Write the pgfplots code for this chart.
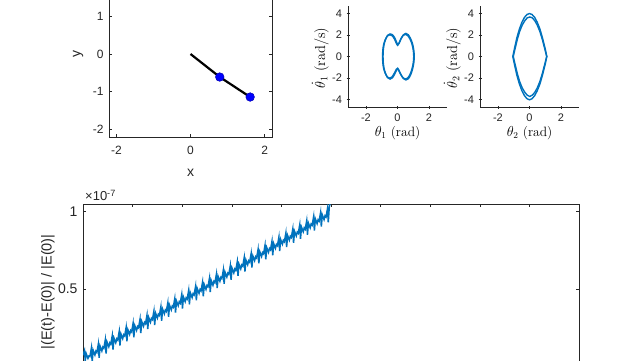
\documentclass[border=0pt]{standalone}
\usepackage{pgfplots}
\pgfplotsset{compat=1.18}
\usepackage{fontspec}
\newfontfamily\arial{Liberation Sans}
\definecolor{mblue}{rgb}{0,0.447,0.741}
\definecolor{axgray}{rgb}{0.15,0.15,0.15}
\pgfplotsset{
  mstyle/.style={
    scale only axis,
    axis line style={axgray, line width=0.6pt},
    tick style={axgray, line width=0.6pt},
    tick align=inside,
    major tick length=3pt,
    /pgf/number format/assume math mode=true,
    every tick label/.append style={text=axgray},
  },
  phase/.style={
    mstyle,
    width=99pt, height=101pt,
    xmin=-3.14, xmax=3.14, ymin=-4.7, ymax=4.7,
    axis lines=left,
    axis line style={-},
    xtick={-2,0,2}, ytick={-4,-2,0,2,4},
    tick label style={font=\arial\fontsize{11}{12}\selectfont},
    xticklabel style={yshift=-2pt},
    yticklabel style={xshift=-1pt},
    ylabel style={at={(axis description cs:-0.28,0.485)}, anchor=center, rotate=0, font=\fontsize{14.5}{16}\selectfont},
    xlabel style={at={(axis description cs:0.5,-0.255)}, anchor=center, font=\fontsize{13.5}{15}\selectfont},
  },
}
\begin{document}
\begin{tikzpicture}[x=1pt,y=1pt]
\useasboundingbox (0,0) rectangle (640,360);
\clip (0,0) rectangle (640,360);
\fill[white] (0,0) rectangle (640,360);

% pendulum
\begin{axis}[mstyle,
  at={(109pt,223pt)}, anchor=south west,
  width=163pt, height=166pt,
  xmin=-2.2, xmax=2.2, ymin=-2.2, ymax=2.2,
  xtick={-2,0,2}, ytick={-2,-1,0,1,2},
  tick label style={font=\arial\fontsize{12}{14}\selectfont},
  xticklabel style={yshift=-6pt},
  yticklabel style={xshift=-2pt},
  xlabel={x}, ylabel={y},
  label style={font=\arial\fontsize{14}{16}\selectfont, text=axgray},
  ylabel style={at={(axis description cs:-0.19,0.5)}, anchor=center},
  xlabel style={at={(axis description cs:0.5,-0.217)}, anchor=center},
]
\addplot[black, line width=2.2pt] coordinates {(0,0) (0.79,-0.61) (1.61,-1.14)};
\addplot[only marks, mark=*, mark size=4.3pt, mark options={fill=blue, draw=blue!70!black, line width=0.5pt}] coordinates {(0.79,-0.61) (1.61,-1.14)};
\end{axis}

% theta1 phase
\begin{axis}[phase,
  at={(348pt,253pt)}, anchor=south west,
  xlabel={$\theta_1$ (rad)}, ylabel={$\dot{\theta}_1$ (rad/s)},
]
\addplot[mblue, line width=1.4pt, smooth, tension=0.5] coordinates {
(-0.95,0) (-0.93,0.6) (-0.88,1.1) (-0.78,1.55) (-0.65,1.9) (-0.5,2.02) (-0.35,1.95) (-0.2,1.65) (-0.08,1.25) (0,1.05) (0.08,1.2) (0.2,1.6) (0.35,1.95) (0.5,2.07) (0.65,1.95) (0.8,1.6) (0.92,1.15) (1.0,0.6) (1.03,0) (1.0,-0.6) (0.92,-1.15) (0.8,-1.65) (0.65,-2.0) (0.5,-2.1) (0.35,-1.98) (0.2,-1.65) (0.08,-1.3) (0,-1.1) (-0.08,-1.2) (-0.2,-1.55) (-0.35,-1.9) (-0.5,-2.02) (-0.65,-1.9) (-0.78,-1.55) (-0.88,-1.1) (-0.93,-0.6) (-0.95,0)};
\addplot[mblue, line width=1.4pt, smooth, tension=0.5] coordinates {
(-0.92,0) (-0.90,0.62) (-0.85,1.14) (-0.75,1.61) (-0.62,1.98) (-0.47,2.1) (-0.32,2.03) (-0.17,1.72) (-0.05,1.3) (0.03,1.09) (0.11,1.25) (0.23,1.66) (0.38,2.03) (0.53,2.15) (0.68,2.03) (0.83,1.66) (0.95,1.2) (1.03,0.62) (1.06,0) (1.03,-0.62) (0.95,-1.2) (0.83,-1.72) (0.68,-2.08) (0.53,-2.18) (0.38,-2.06) (0.23,-1.72) (0.11,-1.35) (0.03,-1.14) (-0.05,-1.25) (-0.17,-1.61) (-0.32,-1.98) (-0.47,-2.1) (-0.62,-1.98) (-0.75,-1.61) (-0.85,-1.14) (-0.90,-0.62) (-0.92,0)};
\end{axis}

% theta2 phase
\begin{axis}[phase,
  at={(480pt,253pt)}, anchor=south west,
  xlabel={$\theta_2$ (rad)}, ylabel={$\dot{\theta}_2$ (rad/s)},
]
\addplot[mblue, line width=1.4pt] coordinates {
(-1.06,0) (-0.95,0.76) (-0.8,1.75) (-0.64,2.56) (-0.48,3.19) (-0.32,3.64) (-0.16,3.91) (0,4.0) (0.16,3.91) (0.33,3.64) (0.49,3.19) (0.66,2.56) (0.82,1.75) (0.99,0.76) (1.1,0) (0.99,-0.76) (0.82,-1.75) (0.66,-2.56) (0.49,-3.19) (0.33,-3.64) (0.16,-3.93) (0,-4.03) (-0.16,-3.93) (-0.32,-3.64) (-0.48,-3.19) (-0.64,-2.56) (-0.8,-1.75) (-0.95,-0.76) (-1.06,0)};
\addplot[mblue, line width=1.4pt] coordinates {
(-1.03,0) (-0.92,0.70) (-0.77,1.61) (-0.62,2.36) (-0.46,2.93) (-0.29,3.35) (-0.14,3.6) (0.02,3.68) (0.17,3.6) (0.33,3.35) (0.49,2.93) (0.65,2.36) (0.81,1.61) (0.97,0.70) (1.09,0) (0.97,-0.70) (0.81,-1.61) (0.65,-2.36) (0.49,-2.93) (0.33,-3.35) (0.17,-3.6) (0.02,-3.72) (-0.14,-3.6) (-0.29,-3.35) (-0.46,-2.93) (-0.62,-2.36) (-0.77,-1.61) (-0.92,-0.7) (-1.03,0)};
\end{axis}

% energy error
\begin{axis}[mstyle,
  at={(83pt,-6pt)}, anchor=south west,
  width=496pt, height=162pt,
  xmin=0, xmax=10, ymin=0, ymax=1.05,
  xtick={0,1,2,3,4,5,6,7,8,9,10}, ytick={0.5,1},
  yticklabels={0.5,1},
  tick label style={font=\arial\fontsize{14}{16}\selectfont},
  yticklabel style={xshift=-2pt},
  ylabel={|(E(t)-E(0)| / |E(0)|},
  ylabel style={font=\arial\fontsize{14.5}{16}\selectfont, text=axgray, at={(axis description cs:-0.0706,0.457)}, anchor=center},
  clip mode=individual,
]
\addplot[mblue, line width=1.5pt] table {
0 0.07
0.03 0.10
0.045 0.035
0.065 0.08
0.10 0.05
0.12 0.065
0.14 0.062
0.17 0.117
0.185 0.027
0.205 0.102
0.24 0.072
0.26 0.097
0.28 0.088
0.31 0.143
0.325 0.053
0.345 0.128
0.38 0.098
0.40 0.123
0.42 0.115
0.45 0.170
0.465 0.080
0.485 0.155
0.52 0.125
0.54 0.150
0.56 0.141
0.59 0.196
0.605 0.106
0.625 0.181
0.66 0.151
0.68 0.176
0.70 0.168
0.73 0.223
0.745 0.133
0.765 0.208
0.80 0.178
0.82 0.203
0.84 0.195
0.87 0.250
0.885 0.160
0.905 0.235
0.94 0.205
0.96 0.230
0.98 0.221
1.01 0.276
1.025 0.186
1.045 0.261
1.08 0.231
1.10 0.256
1.12 0.248
1.15 0.303
1.165 0.213
1.185 0.288
1.22 0.258
1.24 0.283
1.26 0.274
1.29 0.329
1.305 0.239
1.325 0.314
1.36 0.284
1.38 0.309
1.40 0.301
1.43 0.356
1.445 0.266
1.465 0.341
1.50 0.311
1.52 0.336
1.54 0.328
1.57 0.383
1.585 0.293
1.605 0.368
1.64 0.338
1.66 0.363
1.68 0.354
1.71 0.409
1.725 0.319
1.745 0.394
1.78 0.364
1.80 0.389
1.82 0.381
1.85 0.436
1.865 0.346
1.885 0.421
1.92 0.391
1.94 0.416
1.96 0.407
1.99 0.462
2.005 0.372
2.025 0.447
2.06 0.417
2.08 0.442
2.10 0.434
2.13 0.489
2.145 0.399
2.165 0.474
2.20 0.444
2.22 0.469
2.24 0.461
2.27 0.516
2.285 0.426
2.305 0.501
2.34 0.471
2.36 0.496
2.38 0.487
2.41 0.542
2.425 0.452
2.445 0.527
2.48 0.497
2.50 0.522
2.52 0.514
2.55 0.569
2.565 0.479
2.585 0.554
2.62 0.524
2.64 0.549
2.66 0.540
2.69 0.595
2.705 0.505
2.725 0.580
2.76 0.550
2.78 0.575
2.80 0.567
2.83 0.622
2.845 0.532
2.865 0.607
2.90 0.577
2.92 0.602
2.94 0.594
2.97 0.649
2.985 0.559
3.005 0.634
3.04 0.604
3.06 0.629
3.08 0.620
3.11 0.675
3.125 0.585
3.145 0.660
3.18 0.630
3.20 0.655
3.22 0.647
3.25 0.702
3.265 0.612
3.285 0.687
3.32 0.657
3.34 0.682
3.36 0.673
3.39 0.728
3.405 0.638
3.425 0.713
3.46 0.683
3.48 0.708
3.50 0.700
3.53 0.755
3.545 0.665
3.565 0.740
3.60 0.710
3.62 0.735
3.64 0.727
3.67 0.782
3.685 0.692
3.705 0.767
3.74 0.737
3.76 0.762
3.78 0.753
3.81 0.808
3.825 0.718
3.845 0.793
3.88 0.763
3.90 0.788
3.92 0.780
3.95 0.835
3.965 0.745
3.985 0.820
4.02 0.790
4.04 0.815
4.06 0.806
4.09 0.861
4.105 0.771
4.125 0.846
4.16 0.816
4.18 0.841
4.20 0.833
4.23 0.888
4.245 0.798
4.265 0.873
4.30 0.843
4.32 0.868
4.34 0.860
4.37 0.915
4.385 0.825
4.405 0.900
4.44 0.870
4.46 0.895
4.48 0.886
4.51 0.941
4.525 0.851
4.545 0.926
4.58 0.896
4.60 0.921
4.62 0.913
4.65 0.968
4.665 0.878
4.685 0.953
4.72 0.923
4.74 0.948
4.76 0.939
4.79 0.994
4.805 0.904
4.825 0.979
4.86 0.949
4.88 0.974
4.90 0.966
4.93 1.021
4.945 0.931
4.965 1.03
4.98 1.05
};
\node[anchor=base west, font=\arial\fontsize{13}{15}\selectfont, text=axgray, inner sep=0pt] at (rel axis cs:0.004,1) [yshift=3.5pt] {\texttimes10\textsuperscript{-7}};
\end{axis}
\end{tikzpicture}
\end{document}
